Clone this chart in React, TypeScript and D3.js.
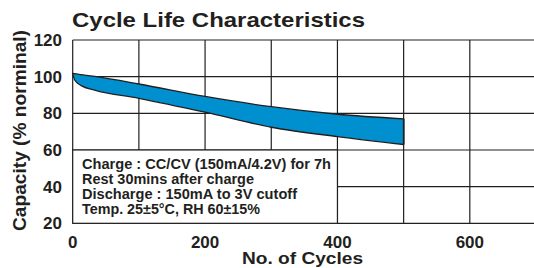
import React from 'react';
import * as d3 from 'd3';

const cycles = [0, 3, 13, 33, 100, 200, 300, 400, 500];
const upperCap = [101.8, 101.6, 101.1, 100.1, 96.0, 89.2, 83.6, 79.5, 77.0];
const lowerCap = [101.8, 98.2, 95.1, 92.7, 88.2, 80.6, 72.4, 67.3, 63.0];

const xTicks = [0, 200, 400, 600];
const xGrid = [0, 100, 200, 300, 400, 500, 600, 700];
const yTicks = [20, 40, 60, 80, 100, 120];

const notes = [
  'Charge : CC/CV (150mA/4.2V) for 7h',
  'Rest 30mins after charge',
  'Discharge : 150mA to 3V cutoff',
  'Temp. 25±5°C, RH 60±15%',
];
// widths of the note lines in the reference, px
const noteWidths = [249, 172, 215, 178];

const W = 534;
const H = 268;
const ink = '#231f20';
const font = '"Liberation Sans", Arial, sans-serif';

export default function App() {
  const x = d3.scaleLinear().domain([0, 700]).range([72.7, 536]);
  const y = d3.scaleLinear().domain([20, 120]).range([223.3, 40]);

  const area = d3
    .area<number>()
    .x((d, i) => x(cycles[i]))
    .y0((d, i) => y(lowerCap[i]))
    .y1((d, i) => y(upperCap[i]))
    .curve(d3.curveMonotoneX);

  const band = area(cycles) || '';

  return (
    <div style={{ position: 'absolute', left: 0, top: 0 }}>
      <svg width={W} height={H} style={{ display: 'block' }} fontFamily={font}>
        <rect width={W} height={H} fill="#fff" />
        <text x={72} y={26.5} fontSize={21} fontWeight="bold" fill={ink} textLength={293} lengthAdjust="spacingAndGlyphs">
          Cycle Life Characteristics
        </text>

        {yTicks.map((t) => (
          <line key={'h' + t} x1={x(0)} x2={W} y1={y(t)} y2={y(t)} stroke={ink} strokeWidth={1.2} />
        ))}
        {xGrid.map((t) => (
          <line key={'v' + t} x1={x(t)} x2={x(t)} y1={y(120)} y2={y(20)} stroke={ink} strokeWidth={1.2} />
        ))}

        <path d={band} fill="#0090cf" stroke={ink} strokeWidth={1.3} strokeLinejoin="round" />
        <line
          x1={x(500)}
          x2={x(500)}
          y1={y(upperCap[upperCap.length - 1])}
          y2={y(lowerCap[lowerCap.length - 1])}
          stroke={ink}
          strokeWidth={1.6}
        />

        <rect
          x={x(0)}
          y={y(60)}
          width={x(400) - x(0)}
          height={y(20) - y(60)}
          fill="#fff"
          stroke={ink}
          strokeWidth={1.2}
        />
        {notes.map((n, i) => (
          <text
            key={n}
            x={82}
            y={169 + i * 15}
            fontSize={14}
            fontWeight="bold"
            fill={ink}
            textLength={noteWidths[i]}
            lengthAdjust="spacingAndGlyphs"
          >
            {n}
          </text>
        ))}

        {yTicks.map((t) => (
          <text key={'yt' + t} x={62} y={y(t) + 6} fontSize={17} fontWeight="bold" textAnchor="end" fill={ink}>
            {t}
          </text>
        ))}
        {xTicks.map((t) => (
          <text key={'xt' + t} x={x(t)} y={248} fontSize={17} fontWeight="bold" textAnchor="middle" fill={ink}>
            {t}
          </text>
        ))}
        <text
          x={302.5}
          y={264}
          fontSize={16}
          fontWeight="bold"
          textAnchor="middle"
          fill={ink}
          textLength={121}
          lengthAdjust="spacingAndGlyphs"
        >
          No. of Cycles
        </text>
        <text
          transform="translate(26,130.5) rotate(-90)"
          fontSize={17.5}
          fontWeight="bold"
          textAnchor="middle"
          fill={ink}
          textLength={201}
          lengthAdjust="spacingAndGlyphs"
        >
          Capacity (% norminal)
        </text>
      </svg>
    </div>
  );
}
